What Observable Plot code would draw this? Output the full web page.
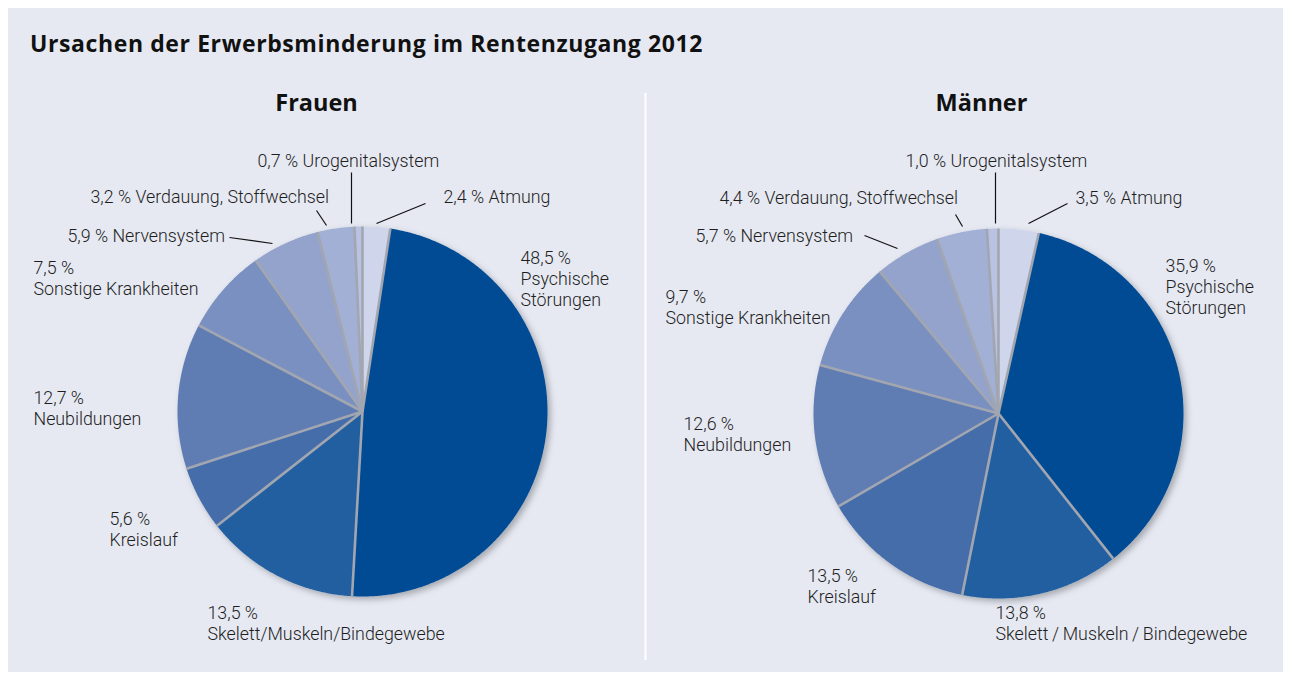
<!DOCTYPE html>
<html><head><meta charset="utf-8">
<script src="https://cdn.jsdelivr.net/npm/d3@7"></script>
<script src="https://cdn.jsdelivr.net/npm/@observablehq/plot@0.6"></script>
<style>
body{margin:0;background:#fff;}
#panel{position:absolute;left:8px;top:8px;width:1275px;height:664px;background:#E6E9F2;overflow:hidden;}
#title{position:absolute;left:22px;top:19px;font-family:"Open Sans";font-weight:700;font-size:23px;letter-spacing:0.6px;color:#111;white-space:nowrap;}
#chart{position:absolute;left:0;top:72px;}
</style></head><body>
<div id="panel"><div id="title">Ursachen der Erwerbsminderung im Rentenzugang 2012</div><div id="chart"></div></div>
<script>
// ---- data ----
const groups = ["Frauen", "Männer"];
const categories = ["Atmung", "Psychische Störungen", "Skelett/Muskeln/Bindegewebe", "Kreislauf", "Neubildungen", "Sonstige Krankheiten", "Nervensystem", "Verdauung, Stoffwechsel", "Urogenitalsystem"];
const valuesFrauen = [2.4, 48.5, 13.5, 5.6, 12.7, 7.5, 5.9, 3.2, 0.7];
const valuesMaenner = [3.5, 35.9, 13.8, 13.5, 12.6, 9.7, 5.7, 4.4, 1.0];
const namesFrauen = ["Atmung", "Psychische\nStörungen", "Skelett/Muskeln/Bindegewebe", "Kreislauf", "Neubildungen", "Sonstige Krankheiten", "Nervensystem", "Verdauung, Stoffwechsel", "Urogenitalsystem"];
const namesMaenner = ["Atmung", "Psychische\nStörungen", "Skelett\u2009/\u2009Muskeln\u2009/\u2009Bindegewebe", "Kreislauf", "Neubildungen", "Sonstige Krankheiten", "Nervensystem", "Verdauung, Stoffwechsel", "Urogenitalsystem"];
const palette = ["#CFD5EA", "#004B93", "#235FA0", "#456DAA", "#5F7DB3", "#7A90C0", "#93A3CB", "#A3B0D5", "#B9C2E0"];

// ---- layout ----
const W = 1275, H = 592, R = 185;
const centers = {"Frauen": [354, 331], "Männer": [990, 333]};
const heads = {"Frauen": [308, 23], "Männer": [973, 23]};
// per category: [dx, dy (first-line centre), inline]
const labelLayout = {
  "Frauen": [[81,-214,1],[158,-153,0],[-155,202,0],[-253,108,0],[-329,-13,0],[-329,-143,0],[-295,-175,1],[-272,-214,1],[-105,-250,1]],
  "Männer": [[77,-215,1],[167,-147,0],[-3,200,0],[-191,163,0],[-315,11,0],[-333,-116,0],[-303,-177,1],[-279,-215,1],[-93,-252,1]]
};
const leaderLayout = {
  "Frauen": {0:[63,-208,14,-188], 6:[-133,-174,-90,-168], 7:[-46,-201,-36,-186], 8:[-11,-239,-11,-188]},
  "Männer": {0:[69,-210,30,-190], 6:[-134,-178,-101,-165], 7:[-43,-199,-36,-187], 8:[-3,-241,-3,-190]}
};
const FS = 17.8;

const fmt = v => v.toFixed(1).replace(".", ",") + " %";
const valuesOf = {"Frauen": valuesFrauen, "Männer": valuesMaenner};
const namesOf = {"Frauen": namesFrauen, "Männer": namesMaenner};

const slicePts = [], seps = [], labels = [], leaders = [], headsData = [];
for (const g of groups) {
  const vals = valuesOf[g];
  const total = d3.sum(vals);
  const [cx, cy] = centers[g];
  let acc = 0;
  vals.forEach((v, i) => {
    const a0 = acc / total * 2 * Math.PI;
    acc += v;
    const a1 = acc / total * 2 * Math.PI;
    const id = g + i;
    slicePts.push({id, category: categories[i], x: cx, y: cy});
    const n = Math.max(2, Math.ceil((a1 - a0) / 0.008));
    for (let k = 0; k <= n; k++) {
      const a = a0 + (a1 - a0) * k / n;
      slicePts.push({id, category: categories[i], x: cx + R * Math.sin(a), y: cy - R * Math.cos(a)});
    }
    slicePts.push({id, category: categories[i], x: cx, y: cy});
    seps.push({x1: cx, y1: cy, x2: cx + R * Math.sin(a1), y2: cy - R * Math.cos(a1)});
    const [dx, dy, inline] = labelLayout[g][i];
    labels.push({x: cx + dx, y: cy + dy - 0.355 * FS - 3, text: fmt(v) + (inline ? " " : "\n") + namesOf[g][i]});
    const L = leaderLayout[g][i];
    if (L) leaders.push({x1: cx + L[0], y1: cy + L[1], x2: cx + L[2], y2: cy + L[3]});
  });
  headsData.push({x: heads[g][0], y: heads[g][1], text: g});
}

const chart = Plot.plot({
  width: W, height: H, margin: 0,
  x: {domain: [0, W], axis: null},
  y: {domain: [H, 0], axis: null},
  color: {domain: categories, range: palette},
  style: {background: "transparent", fontFamily: "Roboto"},
  marks: [
    Plot.ruleX([637], {y1: 13, y2: 580, stroke: "#ffffff", strokeWidth: 2}),
    Plot.line(slicePts, {x: "x", y: "y", z: "id", fill: "category", stroke: "none", curve: "linear"}),
    Plot.link(seps, {x1: "x1", y1: "y1", x2: "x2", y2: "y2", stroke: "#A2A6B0", strokeWidth: 2.6}),
    Plot.link(leaders, {x1: "x1", y1: "y1", x2: "x2", y2: "y2", stroke: "#111", strokeWidth: 1.2}),
    Plot.text(labels, {x: "x", y: "y", text: "text", textAnchor: "start", lineAnchor: "top", fontSize: FS, lineHeight: 21 / FS, fill: "#1e1e1e", fontFamily: "Roboto", fontWeight: 300}),
    Plot.text(headsData, {x: "x", y: "y", text: "text", textAnchor: "middle", fontSize: 23.5, fontWeight: "bold", fill: "#111", fontFamily: "Open Sans"})
  ]
});
document.getElementById("chart").appendChild(chart);
const svg = d3.select(chart);
svg.insert("defs", ":first-child").html('<filter id="pieShadow" x="-10%" y="-10%" width="125%" height="125%"><feDropShadow dx="3" dy="3" stdDeviation="3" flood-color="#000" flood-opacity="0.28"/></filter>');
svg.select('g[aria-label="line"]').attr("filter", "url(#pieShadow)");
</script>
</body></html>
